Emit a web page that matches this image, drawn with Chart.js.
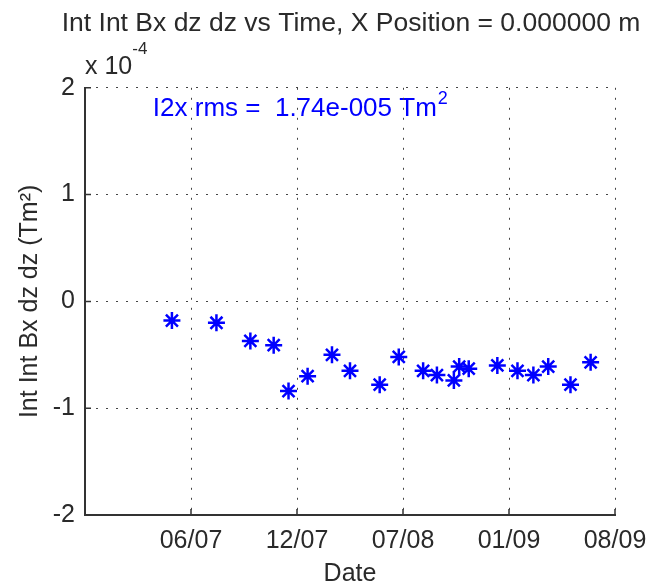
<!DOCTYPE html>
<html>
<head>
<meta charset="utf-8">
<script src="https://cdn.jsdelivr.net/npm/chart.js@4.4.1/dist/chart.umd.min.js"></script>
<style>
  html, body { margin: 0; padding: 0; background: #fff; }
</style>
</head>
<body>
<canvas id="intBxChart" width="649" height="584"></canvas>
<script>
// 測定日 (目盛り単位: 1 = 06/07, 2 = 12/07 ... 5 = 08/09)
const datePos = [0.82, 1.24, 1.56, 1.78, 1.92, 2.10, 2.33, 2.50, 2.78, 2.96, 3.19,
                 3.32, 3.48, 3.53, 3.62, 3.89, 4.08, 4.23, 4.37, 4.58, 4.77];
// Int Int Bx dz dz (x 1e-4 Tm^2)
const intBx = [-0.18, -0.20, -0.37, -0.41, -0.84, -0.70, -0.50, -0.65, -0.78, -0.52, -0.65,
               -0.69, -0.74, -0.61, -0.63, -0.60, -0.65, -0.69, -0.61, -0.78, -0.57];
const dateTicks = [1, 2, 3, 4, 5];
const dateLabels = ['06/07', '12/07', '07/08', '01/09', '08/09'];
const yTicks = [-2, -1, 0, 1, 2];

const FONT = '"Liberation Sans", Arial, sans-serif';
const TXT = '#2a2a2a';

// MATLAB風の内向き目盛り・指数表記・rms表示
const matlabExtras = {
    id: 'matlabExtras',
    beforeDraw(chart) {
        const { ctx, scales } = chart;
        ctx.save();
        ctx.fillStyle = '#0000ff';
        ctx.textBaseline = 'middle';
        ctx.textAlign = 'left';
        ctx.font = '26px ' + FONT;
        const tx = scales.x.getPixelForValue(0.64);
        const ty = scales.y.getPixelForValue(1.8);
        const label = 'I2x rms =  1.74e-005 Tm';
        ctx.fillText(label, tx, ty);
        const w = ctx.measureText(label).width;
        ctx.font = '18px ' + FONT;
        ctx.fillText('2', tx + w + 1, ty - 10);
        ctx.restore();
    },
    afterDraw(chart) {
        const { ctx, chartArea, scales } = chart;
        ctx.save();
        ctx.strokeStyle = '#333';
        ctx.lineWidth = 1.5;
        ctx.beginPath();
        yTicks.forEach(v => {
            const y = scales.y.getPixelForValue(v);
            ctx.moveTo(chartArea.left, y);
            ctx.lineTo(chartArea.left + 6, y);
        });
        dateTicks.forEach(v => {
            const x = scales.x.getPixelForValue(v);
            ctx.moveTo(x, chartArea.bottom);
            ctx.lineTo(x, chartArea.bottom - 6);
        });
        ctx.stroke();

        ctx.fillStyle = TXT;
        ctx.textBaseline = 'middle';
        ctx.textAlign = 'left';
        ctx.font = '25px ' + FONT;
        ctx.fillText('x 10', chartArea.left, chartArea.top - 21);
        const w = ctx.measureText('x 10').width;
        ctx.font = '17px ' + FONT;
        ctx.fillText('-4', chartArea.left + w, chartArea.top - 38);
        ctx.restore();
    }
};

new Chart(document.getElementById('intBxChart').getContext('2d'), {
    type: 'scatter',
    data: {
        datasets: [{
            label: 'Int Int Bx dz dz',
            data: datePos.map((d, i) => ({ x: d, y: intBx[i] })),
            pointStyle: 'star',
            pointRadius: 8.5,
            pointBorderWidth: 2.5,
            borderColor: '#0000ff',
            backgroundColor: '#0000ff'
        }]
    },
    options: {
        responsive: false,
        animation: false,
        layout: { padding: { left: 53, right: 0, top: 0, bottom: 0 } },
        scales: {
            x: {
                type: 'linear',
                min: 0,
                max: 5,
                afterBuildTicks: s => { s.ticks = dateTicks.map(v => ({ value: v })); },
                afterFit: s => { s.height = 69; s.paddingLeft = 0; s.paddingRight = 34; },
                ticks: {
                    autoSkip: false,
                    maxRotation: 0,
                    padding: 11,
                    color: TXT,
                    font: { family: FONT, size: 25 },
                    callback: v => dateLabels[dateTicks.indexOf(v)] ?? ''
                },
                grid: { color: '#444', lineWidth: 1, drawTicks: false },
                border: { color: '#333', width: 2, dash: [2, 8] },
                title: {
                    display: true,
                    text: 'Date',
                    color: TXT,
                    font: { family: FONT, size: 25 },
                    padding: { top: 0, bottom: -5 }
                }
            },
            y: {
                min: -2,
                max: 2,
                afterBuildTicks: s => { s.ticks = yTicks.map(v => ({ value: v })); },
                afterFit: s => { s.width = 32; s.paddingTop = 0; s.paddingBottom = 0; },
                ticks: {
                    padding: 10,
                    color: TXT,
                    font: { family: FONT, size: 25 },
                    callback: v => String(v)
                },
                grid: { color: '#444', lineWidth: 1, drawTicks: false },
                border: { color: '#333', width: 2, dash: [2, 8] },
                title: {
                    display: true,
                    text: 'Int Int Bx dz dz (Tm²)',
                    color: TXT,
                    font: { family: FONT, size: 25 },
                    padding: { top: -38, bottom: 0 }
                }
            }
        },
        plugins: {
            legend: { display: false },
            tooltip: { enabled: false },
            title: {
                display: true,
                text: 'Int Int Bx dz dz vs Time, X Position = 0.000000 m',
                color: TXT,
                font: { family: FONT, size: 26.5, weight: 'normal' },
                padding: { top: 8, bottom: 48 }
            }
        }
    },
    plugins: [matlabExtras]
});
</script>
</body>
</html>
